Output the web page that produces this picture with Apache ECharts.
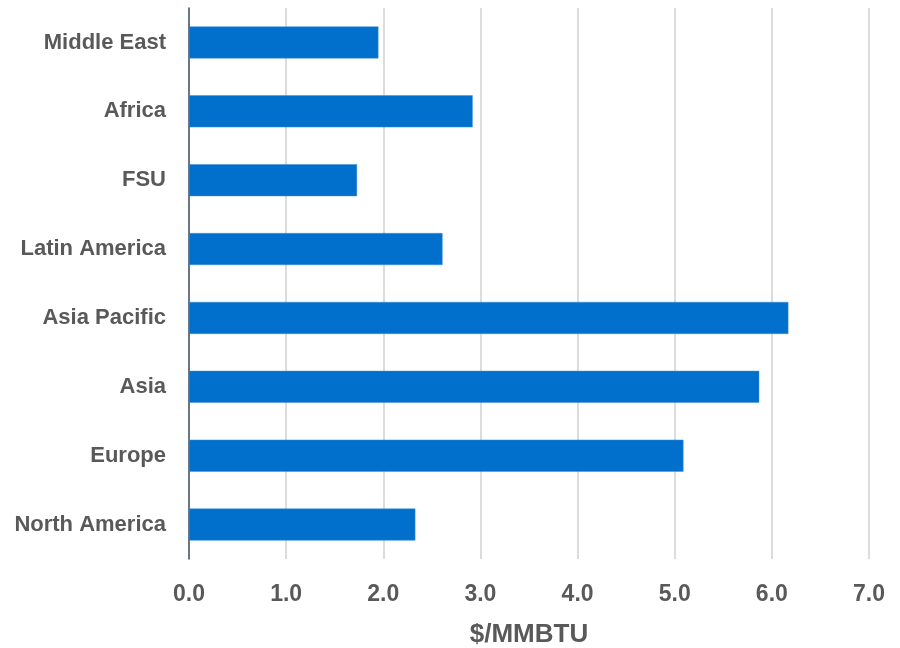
<!DOCTYPE html>
<html>
<head>
<meta charset="utf-8">
<script src="https://cdn.jsdelivr.net/npm/echarts@6/dist/echarts.min.js"></script>
<style>html,body{margin:0;padding:0;background:#fff}#c{width:900px;height:648px}</style>
</head>
<body>
<div id="c"></div>
<script>
var categories = ['North America', 'Europe', 'Asia', 'Asia Pacific', 'Latin America', 'FSU', 'Africa', 'Middle East'];
var values = [2.33, 5.09, 5.87, 6.17, 2.61, 1.73, 2.92, 1.95];
var xTicks = { min: 0, max: 7, interval: 1 };
var axisName = '$/MMBTU';

var chart = echarts.init(document.getElementById('c'), null, { renderer: 'canvas' });
chart.setOption({
  animation: false,
  backgroundColor: '#ffffff',
  grid: { left: 189, right: 31, top: 8, bottom: 89, containLabel: false, outerBoundsMode: 'none' },
  xAxis: {
    type: 'value',
    min: xTicks.min, max: xTicks.max, interval: xTicks.interval,
    axisLine: { show: false },
    axisTick: { show: false },
    splitLine: { show: true, lineStyle: { color: '#d0d0d0', width: 1.5 } },
    axisLabel: {
      margin: 24,
      color: '#595959',
      fontFamily: '"Liberation Sans Narrow", "Arial Narrow", "Liberation Sans", Arial, sans-serif',
      fontWeight: 'bold',
      fontSize: 23,
      formatter: function (v) { return v.toFixed(1); }
    },
    name: axisName,
    nameLocation: 'middle',
    nameGap: 63,
    nameTextStyle: {
      color: '#595959',
      fontFamily: '"Liberation Sans Narrow", "Arial Narrow", "Liberation Sans", Arial, sans-serif',
      fontWeight: 'bold',
      fontSize: 26
    }
  },
  yAxis: {
    type: 'category',
    data: categories,
    axisLine: { show: true, lineStyle: { color: '#44546A', width: 1.5 } },
    axisTick: { show: false },
    axisLabel: {
      margin: 23,
      padding: [4, 0, 0, 0],
      color: '#595959',
      fontFamily: '"Liberation Sans", Arial, sans-serif',
      fontWeight: 'bold',
      fontSize: 22
    }
  },
  series: [{
    type: 'bar',
    data: values,
    barWidth: 32,
    itemStyle: { color: '#0070CC', borderColor: '#3d8fd8', borderWidth: 0.5 }
  }]
});
</script>
</body>
</html>
